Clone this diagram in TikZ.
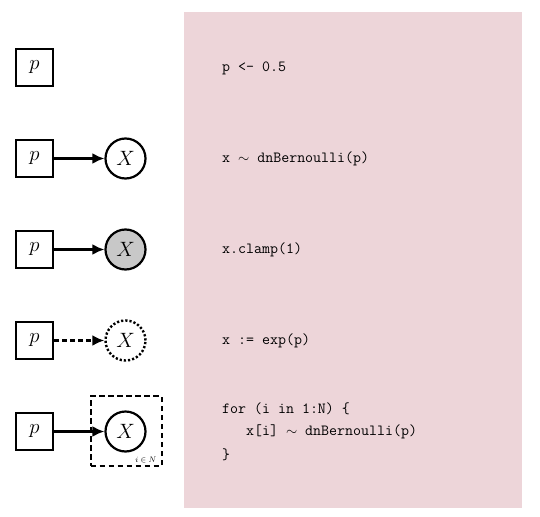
\documentclass[tikz,border=0pt]{standalone}
\usepackage{fontspec}
\usetikzlibrary{arrows.meta}
\definecolor{codebg}{RGB}{237,213,217}
\definecolor{clampgray}{RGB}{200,200,200}
\newcommand{\codefnt}{\fontsize{15.5}{18}\selectfont\ttfamily}
\newcommand{\mathfnt}{\fontsize{20.5}{24}\selectfont}
\tikzset{
  pbox/.style={draw, line width=2.2pt, minimum size=37pt, inner sep=0pt, fill=white, font=\mathfnt},
  xnode/.style={circle, draw, line width=2.2pt, minimum size=40pt, inner sep=0pt, fill=white, font=\mathfnt},
  arr/.style={line width=3pt, -{Latex[length=12pt,width=11pt]}},
  codetext/.style={anchor=west, font=\codefnt, inner sep=0pt},
  plate/.style={draw, line width=2pt, dash pattern=on 5.5pt off 3.5pt, minimum width=71pt, minimum height=70pt, inner sep=0pt},
}
\begin{document}
\begin{tikzpicture}[x=1pt,y=-1pt]
\useasboundingbox (0,0) rectangle (540,516);
\fill[codebg] (184,12) rectangle (522,508);
% row 1
\node[pbox] (p1) at (34.5,67.5) {$p$};
\node[codetext] (c1) at (222,68) {p <- 0.5};
% row 2
\node[pbox] (p2) at (34.5,158.5) {$p$};
\node[xnode] (x2) at (125.5,158.5) {$X$};
\draw[arr] (p2) -- (x2);
\node[codetext] (c2) at (222,159) {x $\sim$ dnBernoulli(p)};
% row 3
\node[pbox] (p3) at (34.5,249.5) {$p$};
\node[xnode, fill=clampgray] (x3) at (125.5,249.5) {$X$};
\draw[arr] (p3) -- (x3);
\node[codetext] (c3) at (222,250) {x.clamp(1)};
% row 4
\node[pbox] (p4) at (34.5,340.5) {$p$};
\node[xnode, dotted, line width=2.4pt] (x4) at (125.5,340.5) {$X$};
\draw[arr, dash pattern=on 5pt off 3pt] (p4) -- (x4);
\node[codetext] (c4) at (222,341) {x := exp(p)};
% row 5
\node[plate] (plate) at (126,431) {};
\node[pbox] (p5) at (34.5,431.5) {$p$};
\node[xnode] (x5) at (125.5,431.5) {$X$};
\draw[arr] (p5) -- (x5);
\node[font=\fontsize{8.5}{9}\selectfont, anchor=south east, inner sep=0pt] (lab) at ([xshift=-6pt,yshift=4pt]plate.south east) {$i\in N$};
\node[codetext] (c5a) at (222,409) {for (i in 1:N) \{};
\node[codetext] (c5b) at (222,432) {\ \ \ x[i] $\sim$ dnBernoulli(p)};
\node[codetext] (c5c) at (222,455) {\}};
\end{tikzpicture}
\end{document}
